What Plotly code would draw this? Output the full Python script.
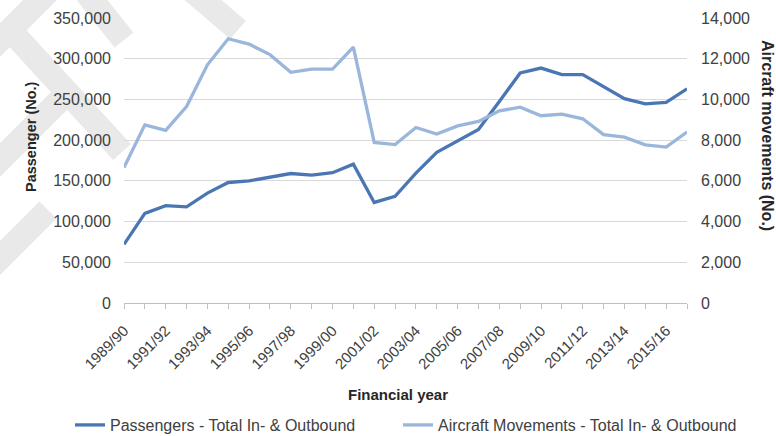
import plotly.graph_objects as go

# ---------------- data ----------------
years = ["1989/90", "1990/91", "1991/92", "1992/93", "1993/94", "1994/95", "1995/96",
         "1996/97", "1997/98", "1998/99", "1999/00", "2000/01", "2001/02", "2002/03",
         "2003/04", "2004/05", "2005/06", "2006/07", "2007/08", "2008/09", "2009/10",
         "2010/11", "2011/12", "2012/13", "2013/14", "2014/15", "2015/16", "2016/17"]

passengers = [72000, 110000, 119500, 118000, 135000, 148000, 150000, 154000, 159000,
              157000, 160000, 170500, 123500, 131000, 159500, 185000, 199000, 213000,
              247500, 282500, 288500, 280500, 280500, 265500, 251000, 244500, 246500,
              263000]

aircraft = [6650, 8750, 8480, 9650, 11700, 12980, 12720, 12200, 11330, 11490, 11490,
            12570, 7890, 7780, 8620, 8300, 8700, 8920, 9440, 9620, 9200, 9280, 9050,
            8270, 8150, 7770, 7660, 8400]

tick_labels = [y if i % 2 == 0 else "" for i, y in enumerate(years)]

# ---------------- layout geometry ----------------
W, H = 776, 436
L, R, T, B = 124, 89, 18, 133
PW, PH = W - L - R, H - T - B


def px(x, y):
    return (x - L) / PW, (H - B - y) / PH


DARK = "#4a77b4"
LIGHT = "#9ab6da"
FONT = "Liberation Sans, Arial, sans-serif"

fig = go.Figure()
fig.add_trace(go.Scatter(x=years, y=passengers, mode="lines", name="Passengers - Total In- & Outbound",
                         line=dict(color=DARK, width=3.3), yaxis="y", legend="legend"))
fig.add_trace(go.Scatter(x=years, y=aircraft, mode="lines", name="Aircraft Movements - Total In- & Outbound",
                         line=dict(color=LIGHT, width=3.3), yaxis="y2", legend="legend2"))

# decorative watermark bands (pixel geometry)
bands = [((-10, 50), (72, -32)), ((12, 32), (122, 152)), ((-10, 170), (62, 98)),
         ((-10, 268), (48, 210)), ((84, -10), (124, 40)), ((182, -18), (238, 30))]
shapes = []
for (x0, y0), (x1, y1) in bands:
    a, b = px(x0, y0)
    c, d = px(x1, y1)
    shapes.append(dict(type="line", xref="paper", yref="paper", x0=a, y0=b, x1=c, y1=d,
                       line=dict(color="#e9e9e9", width=24), layer="below"))

tx, ty = px(31, 137)
rx, ry = px(768, 135)
fx, fy = px(398, 394)
l1x, ly = px(70, 425)
l2x, _ = px(398, 425)

legend_style = dict(orientation="h", y=ly, xanchor="left", yanchor="middle",
                    font=dict(size=16, color="#404040"), bgcolor="rgba(0,0,0,0)")

fig.update_layout(
    width=W, height=H,
    margin=dict(l=L, r=R, t=T, b=B, autoexpand=False),
    paper_bgcolor="white", plot_bgcolor="rgba(0,0,0,0)",
    font=dict(family=FONT, size=16, color="#404040"),
    showlegend=True,
    legend=dict(x=l1x, **legend_style),
    legend2=dict(x=l2x, **legend_style),
    xaxis=dict(type="category", tickvals=years, ticktext=tick_labels, tickangle=-45,
               ticks="outside", ticklen=5, tickcolor="#bfbfbf", showline=True,
               linecolor="#bfbfbf", linewidth=1, showgrid=False, range=[0, len(years) - 1],
               automargin=False, ticklabelstandoff=7, tickfont=dict(size=15, color="#404040")),
    yaxis=dict(range=[0, 350000], dtick=50000, tickformat=",", showgrid=True,
               gridcolor="#d9d9d9", gridwidth=1, zeroline=False, showline=False,
               automargin=False, ticklabelstandoff=12, tickfont=dict(size=16, color="#404040")),
    yaxis2=dict(range=[0, 14000], dtick=2000, tickformat=",", overlaying="y", side="right",
                showgrid=False, zeroline=False, showline=False, ticklabelstandoff=13,
                automargin=False, tickfont=dict(size=16, color="#404040")),
    shapes=shapes,
    annotations=[
        dict(text="<b>Passenger (No.)</b>", xref="paper", yref="paper", x=tx, y=ty,
             textangle=-90, showarrow=False, font=dict(size=14.5, color="#262626"),
             xanchor="center", yanchor="middle"),
        dict(text="<b>Aircraft movements (No.)</b>", xref="paper", yref="paper", x=rx, y=ry,
             textangle=90, showarrow=False, font=dict(size=16, color="#262626"),
             xanchor="center", yanchor="middle"),
        dict(text="<b>Financial year</b>", xref="paper", yref="paper", x=fx, y=fy,
             showarrow=False, font=dict(size=15, color="#262626"),
             xanchor="center", yanchor="middle"),
    ],
)

fig.write_html("out.html")
